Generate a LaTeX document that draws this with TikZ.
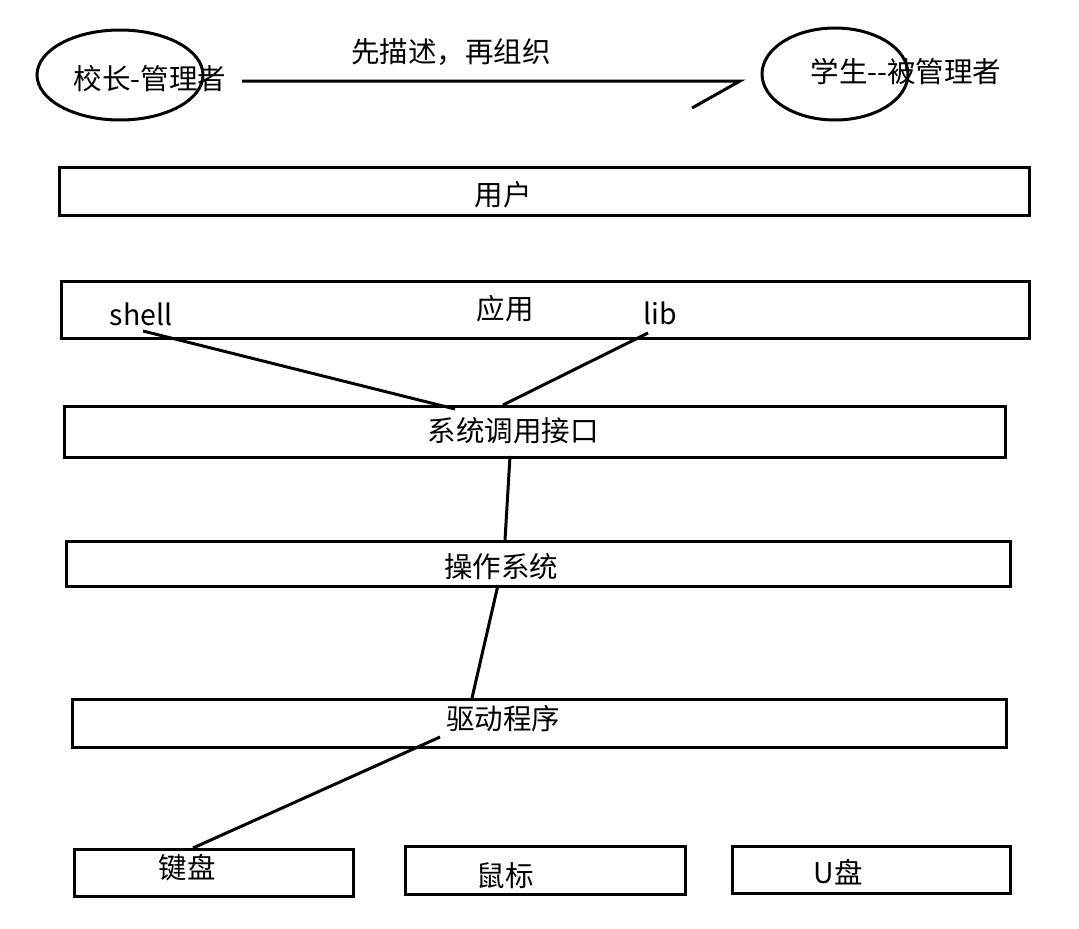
\documentclass[tikz,border=0pt]{standalone}
\usepackage{fontspec}
\setmainfont{Noto Sans CJK SC}
\usetikzlibrary{shapes.geometric}

\begin{document}
\begin{tikzpicture}[x=1pt, y=-1pt,
    layer/.style={draw, rectangle, line width=3pt, inner sep=0pt, anchor=north west},
    role/.style={draw, ellipse, line width=3pt, inner sep=0pt},
    txt/.style={inner sep=0pt, font=\fontsize{28.5}{32}\selectfont},
    wire/.style={line width=3pt}]
    \useasboundingbox (0,0) rectangle (1079,929);

    % top: roles
    \node[role, minimum width=166, minimum height=90] (boss) at (120,75) {};
    \node[txt] (bosstext) at (150,79) {校长-管理者};
    \node[role, minimum width=146, minimum height=92] (pupil) at (835,74) {};
    \node[txt] (pupiltext) at (906,72) {学生{-}{-}被管理者};
    \node[txt] (order) at (451,52) {先描述，再组织};
    \coordinate (hookstart) at (242,81);
    \coordinate (hooktip) at (740,81);
    \coordinate (hookend) at (692,108);
    \draw[wire] (hookstart) -- (hooktip) -- (hookend);

    % layers
    \node[layer, minimum width=970, minimum height=48] (user) at (58,166) {};
    \node[txt] at (503,195) (usertext) {用户};

    \node[layer, minimum width=968, minimum height=57] (app) at (60,280) {};
    \node[txt] at (505,309) (apptext) {应用};
    \node[txt] at (141,314) (shell) {shell};
    \node[txt] at (660,313) (lib) {lib};

    \node[layer, minimum width=941, minimum height=51] (syscall) at (63,405) {};
    \node[txt] at (513,431) (syscalltext) {系统调用接口};

    \node[layer, minimum width=944, minimum height=45] (os) at (65,540) {};
    \node[txt] at (501,567) (ostext) {操作系统};

    \node[layer, minimum width=934, minimum height=48] (driver) at (71,698) {};
    \node[txt] at (503,719) (drivertext) {驱动程序};

    % devices
    \node[layer, minimum width=279, minimum height=47] (keyboard) at (73,848) {};
    \node[txt] at (187,868) (keyboardtext) {键盘};
    \node[layer, minimum width=280, minimum height=48] (mouse) at (404,845) {};
    \node[txt] at (505,876) (mousetext) {鼠标};
    \node[layer, minimum width=278, minimum height=47] (udisk) at (731,845) {};
    \node[txt] at (838,872) (udisktext) {U盘};

    % links
    \coordinate (shellend) at (143,331);
    \coordinate (libend) at (648,333);
    \coordinate (sysleft) at (455,409);
    \coordinate (sysright) at (503,405);
    \coordinate (sysdown) at (510,456);
    \coordinate (osup) at (505,540);
    \coordinate (osdown) at (498,585);
    \coordinate (drvup) at (472,698);
    \coordinate (drvin) at (440,737);
    \coordinate (kbdup) at (193,848);
    \draw[wire] (shellend) -- (sysleft);
    \draw[wire] (libend) -- (sysright);
    \draw[wire] (sysdown) -- (osup);
    \draw[wire] (osdown) -- (drvup);
    \draw[wire] (drvin) -- (kbdup);
\end{tikzpicture}
\end{document}
